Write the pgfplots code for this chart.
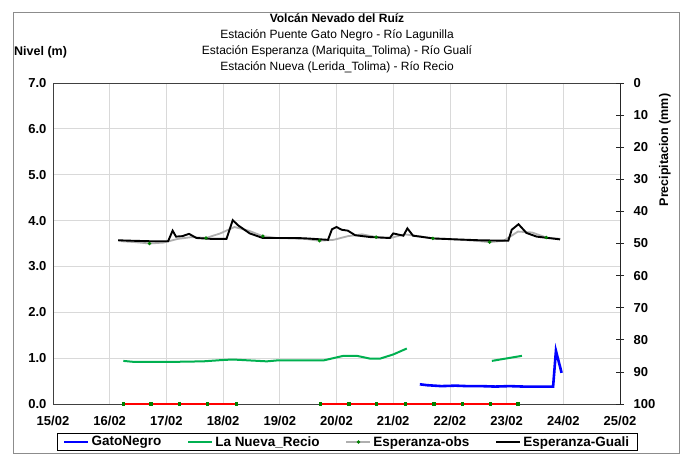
\documentclass[border=0pt]{standalone}
\usepackage{fontspec}
\setmainfont{Liberation Sans}
\usepackage{pgfplots}
\pgfplotsset{compat=1.18}
\definecolor{cgreen}{RGB}{0,176,80}
\definecolor{cgrey}{RGB}{175,175,175}
\definecolor{cgrid}{RGB}{217,217,217}
\definecolor{cmark}{RGB}{0,128,0}
\begin{document}
\begin{tikzpicture}
\path (0pt,0pt) rectangle (684pt,454pt);
\draw[cgrey!80!black, line width=0.8pt] (13pt,1pt) rectangle (679pt,442pt);
\node[font=\bfseries\fontsize{12}{14}\selectfont] at (337pt,436pt) {Volcán Nevado del Ruíz};
\node[font=\fontsize{12}{14}\selectfont] at (337pt,419pt) {Estación Puente Gato Negro - Río Lagunilla};
\node[font=\fontsize{12}{14}\selectfont] at (337pt,403pt) {Estación Esperanza (Mariquita\_Tolima) - Río Gualí};
\node[font=\fontsize{12}{14}\selectfont] at (337pt,387pt) {Estación Nueva (Lerida\_Tolima) - Río Recio};
\node[font=\bfseries\fontsize{12.5}{14}\selectfont, anchor=west, inner sep=0pt] at (14pt,402pt) {Nivel (m)};
\node[font=\bfseries\fontsize{12.5}{14}\selectfont, rotate=90] at (665pt,304pt) {Precipitacion (mm)};

\begin{axis}[
  at={(53pt,50pt)}, anchor=south west, scale only axis,
  width=567pt, height=321pt,
  xmin=15, xmax=25, ymin=0, ymax=7,
  xtick={15,16,...,25},
  xticklabels={15/02,16/02,17/02,18/02,19/02,20/02,21/02,22/02,23/02,24/02,25/02},
  ytick={0,1,...,7},
  yticklabels={0.0,1.0,2.0,3.0,4.0,5.0,6.0,7.0},
  ticklabel style={font=\bfseries\fontsize{13}{15}\selectfont},
  xticklabel style={yshift=-9pt},
  yticklabel style={xshift=-3pt},
  grid=major, major grid style={cgrid, line width=0.8pt},
  axis line style={black!75, line width=0.8pt},
  tick style={draw=none},
  clip=false,
  unbounded coords=jump,
  legend columns=4,
  legend style={at={(0.5185,-0.1184)}, anchor=center, draw=black, line width=0.6pt,
    font=\bfseries\fontsize{13.5}{15}\selectfont, inner ysep=1pt, inner xsep=6pt,
    /tikz/every even column/.append style={column sep=24pt}},
  legend image code/.code={\draw[mark repeat=2,mark phase=2,#1] plot coordinates {(0pt,0pt) (12pt,0pt) (24pt,0pt)};},
]
% precipitation (zero) line
\addplot[red, line width=1.6pt, mark=square*, mark size=0.8pt, mark options={cmark, draw=cmark}, forget plot] coordinates {
(16.24,0) (16.73,0) (17.23,0) (17.73,0) (18.23,0)
(18.5,nan)
(19.72,0) (20.22,0) (20.71,0) (21.22,0) (21.72,0) (22.22,0) (22.71,0) (23.20,0)
};
% GatoNegro
\addplot[blue, line width=2.6pt] coordinates {
(21.47,0.43) (21.60,0.41) (21.85,0.39) (22.10,0.40) (22.30,0.39) (22.55,0.39) (22.80,0.38) (23.05,0.39) (23.30,0.38) (23.82,0.38) (23.87,1.16) (23.97,0.68)
};
\addlegendentry{GatoNegro}
% La Nueva_Recio
\addplot[cgreen, line width=2pt] coordinates {
(16.24,0.94) (16.41,0.92) (16.80,0.92) (17.18,0.92) (17.65,0.93) (18.00,0.96) (18.17,0.97) (18.77,0.93) (18.95,0.95) (19.77,0.95) (20.12,1.05) (20.36,1.05) (20.59,0.99) (20.77,0.99) (21.00,1.08) (21.24,1.21)
(22.0,nan)
(22.74,0.94) (23.27,1.05)
};
\addlegendentry{La Nueva\_Recio}
% Esperanza-obs
\addplot[cgrey, line width=1.8pt, mark=*, mark size=0.6pt, mark options={cmark, draw=cmark}, mark repeat=4, mark phase=3] coordinates {
(16.20,3.55) (16.45,3.53) (16.70,3.50) (16.95,3.52) (17.20,3.60) (17.45,3.64) (17.70,3.62) (17.95,3.72)
(18.20,3.86) (18.45,3.78) (18.70,3.66) (18.95,3.62) (19.20,3.61) (19.45,3.60) (19.70,3.56) (19.95,3.58)
(20.20,3.66) (20.45,3.70) (20.70,3.64) (20.95,3.62) (21.20,3.70) (21.45,3.66) (21.70,3.61) (21.95,3.60)
(22.20,3.58) (22.45,3.56) (22.70,3.53) (22.95,3.56) (23.20,3.76) (23.45,3.74) (23.70,3.63) (23.95,3.60)
};
\addlegendentry{Esperanza-obs}
% Esperanza-Guali
\addplot[black, line width=1.9pt] coordinates {
(16.15,3.57) (16.40,3.56) (16.70,3.55) (17.03,3.55) (17.11,3.78) (17.17,3.65) (17.28,3.66) (17.40,3.71)
(17.53,3.62) (17.80,3.60) (18.06,3.60) (18.17,4.01) (18.26,3.90) (18.47,3.72) (18.70,3.62) (19.00,3.62)
(19.30,3.62) (19.48,3.61) (19.85,3.58) (19.92,3.81) (20.00,3.86) (20.09,3.80) (20.20,3.78) (20.33,3.68)
(20.60,3.64) (20.94,3.62) (21.00,3.72) (21.18,3.67) (21.25,3.83) (21.35,3.67) (21.71,3.61) (22.10,3.59)
(22.53,3.57) (23.03,3.56) (23.09,3.80) (23.21,3.92) (23.35,3.73) (23.53,3.65) (23.94,3.59)
};
\addlegendentry{Esperanza-Guali}
\end{axis}

\begin{axis}[
  at={(53pt,50pt)}, anchor=south west, scale only axis,
  width=567pt, height=321pt,
  xmin=15, xmax=25, ymin=0, ymax=100,
  y dir=reverse,
  axis y line*=right, axis x line=none,
  ytick={0,10,...,100},
  yticklabels={0,10,20,30,40,50,60,70,80,90,100},
  ticklabel style={font=\bfseries\fontsize{13}{15}\selectfont},
  yticklabel style={xshift=6pt},
  axis line style={black!85, line width=0.8pt},
  tick style={black!85, line width=0.8pt},
  major tick length=8pt, tick align=center,
]
\addplot[draw=none] coordinates {(15,0)};
\end{axis}
\end{tikzpicture}
\end{document}
